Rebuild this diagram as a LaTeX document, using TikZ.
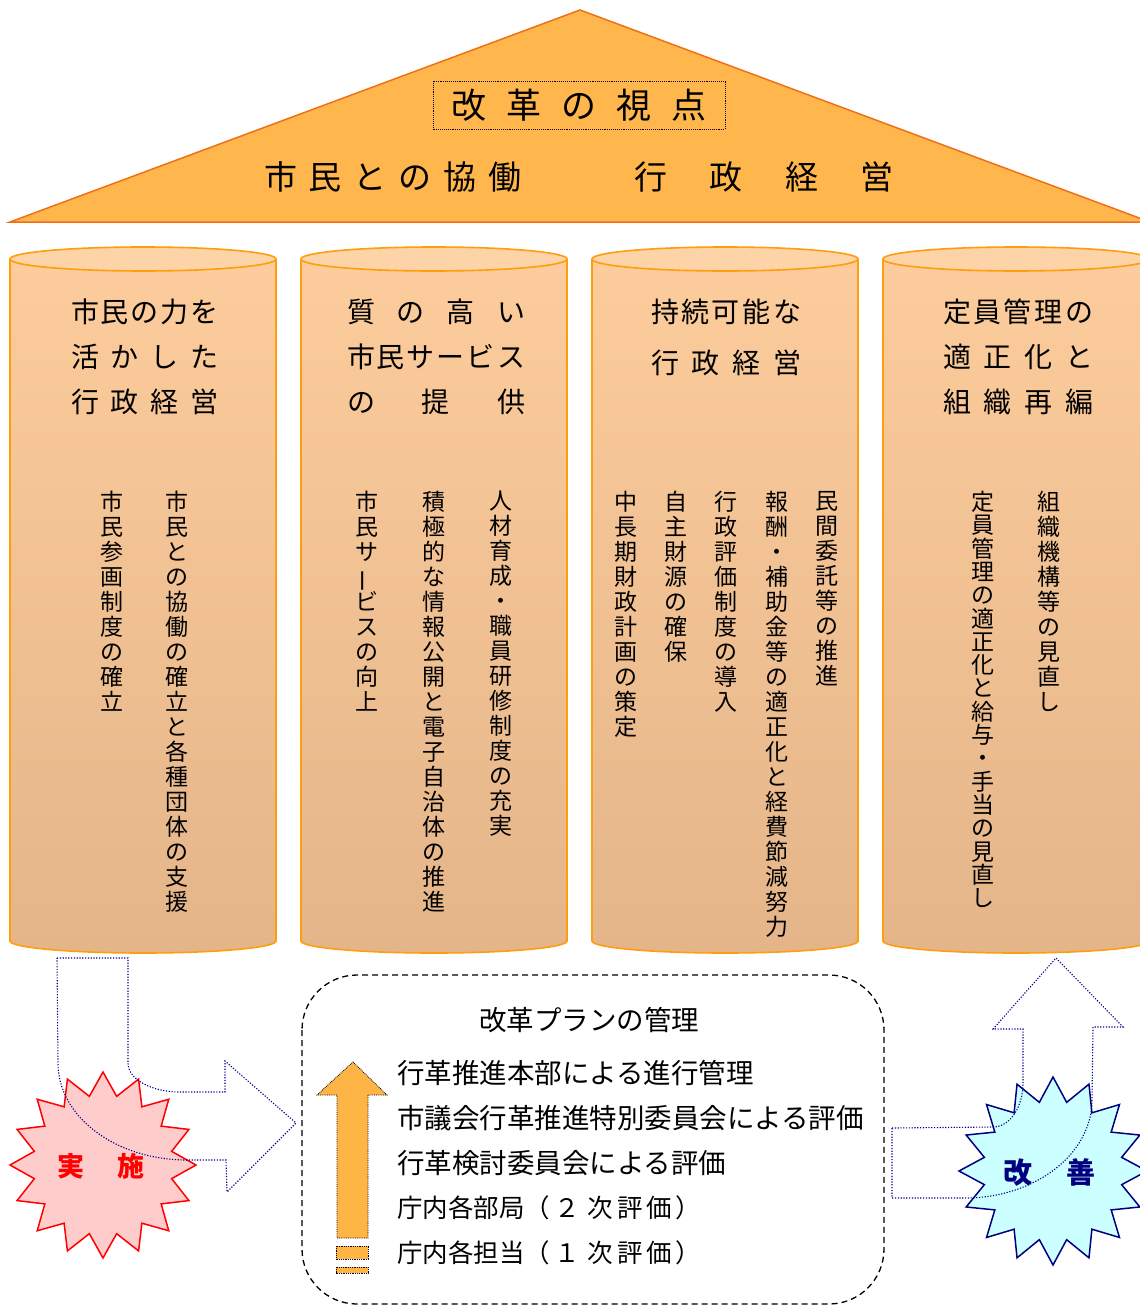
\documentclass[tikz,border=0pt]{standalone}
\usepackage{fontspec}
\setmainfont{Noto Sans CJK JP}
\usepackage{graphicx}
\definecolor{roof}{RGB}{255,182,77}
\definecolor{roofline}{RGB}{240,112,24}
\definecolor{cylline}{RGB}{255,158,12}
\definecolor{cyltop}{RGB}{252,204,156}
\definecolor{cylbot}{RGB}{228,181,137}
\definecolor{cyltopfill}{RGB}{253,211,168}
\definecolor{arroworange}{RGB}{255,180,70}
\definecolor{navyline}{RGB}{0,0,140}
\definecolor{starpink}{RGB}{255,204,204}
\definecolor{starcyan}{RGB}{204,255,255}
\definecolor{navytext}{RGB}{0,0,128}
\newdimen\vpitch \vpitch=25pt
\newcommand\vtxt[1]{\vbox{\baselineskip=\vpitch\lineskiplimit=-30pt\lineskip=0pt\vtxl#1\relax}}
\def\vtxl#1{\ifx\relax#1\else\hbox to 24pt{\hss#1\hss}\expandafter\vtxl\fi}
\newcommand\cylinder[1]{%
  \fill[top color=cyltop, bottom color=cylbot] (#1,259) -- (#1,941) arc[start angle=180,end angle=0,x radius=133,y radius=12] -- ({#1+266},259) -- cycle;
  \draw[cylstroke] (#1,259) -- (#1,941) arc[start angle=180,end angle=0,x radius=133,y radius=12] -- ({#1+266},259);
  \draw[cylstroke, fill=cyltopfill] ({#1+133},259) ellipse[x radius=133,y radius=12];
}
\tikzset{
  cylstroke/.style={draw=cylline, line width=1.6pt},
  vt/.style={anchor=north, inner sep=0pt, font=\fontsize{23}{25}\selectfont},
  head/.style={inner sep=0pt, font=\fontsize{28}{30}\selectfont},
  rooftext/.style={inner sep=0pt, font=\fontsize{33}{36}\selectfont},
  mgmt/.style={inner sep=0pt, anchor=west, font=\fontsize{27.5}{30}\selectfont},
  mgmtsmall/.style={inner sep=0pt, anchor=west, font=\fontsize{25.5}{30}\selectfont},
  flowarrow/.style={draw=navyline, line width=1.1pt, dash pattern=on 1.2pt off 1.6pt},
  orangearrow/.style={fill=arroworange, draw=black, line width=0.8pt, dash pattern=on 0.8pt off 1pt},
}
\begin{document}
\begin{tikzpicture}[x=1pt,y=-1pt]
\useasboundingbox (0,0) rectangle (1140,1306);
\clip (0,0) rectangle (1140,1306);
\fill[white] (0,0) rectangle (1140,1306);
% roof
\draw[fill=roof, draw=roofline, line width=1.5pt] (10,222) -- (580,10) -- (1150,222) -- cycle;
\draw[densely dotted, line width=0.9pt] (433,81) rectangle (725,129);
\node[inner sep=0pt, font=\fontsize{35}{38}\selectfont] (title) at (579,105) {\makebox[256pt]{改\hfill 革\hfill の\hfill 視\hfill 点}};
\node[rooftext] (kyodo) at (393,177) {\makebox[258pt]{市\hfill 民\hfill と\hfill の\hfill 協\hfill 働}};
\node[rooftext] (keiei) at (764,177) {\makebox[259pt]{行\hfill 政\hfill 経\hfill 営}};
% cylinders
\cylinder{10}
\cylinder{301}
\cylinder{592}
\cylinder{883}
% headings
\node[head] (h1a) at (145,312) {\makebox[148pt]{市\hfill 民\hfill の\hfill 力\hfill を}};
\node[head] (h1b) at (145,357) {\makebox[148pt]{活\hfill か\hfill し\hfill た}};
\node[head] (h1c) at (145,402) {\makebox[148pt]{行\hfill 政\hfill 経\hfill 営}};
\node[head] (h2a) at (436,312) {\makebox[178pt]{質\hfill の\hfill 高\hfill い}};
\node[head] (h2b) at (436,357) {\makebox[178pt]{市\hfill 民\hfill サ\hfill ー\hfill ビ\hfill ス}};
\node[head] (h2c) at (436,402) {\makebox[178pt]{の\hfill 提\hfill 供}};
\node[head] (h3a) at (726,312) {\makebox[150pt]{持\hfill 続\hfill 可\hfill 能\hfill な}};
\node[head] (h3b) at (726,363) {\makebox[150pt]{行\hfill 政\hfill 経\hfill 営}};
\node[head] (h4a) at (1018,312) {\makebox[150pt]{定\hfill 員\hfill 管\hfill 理\hfill の}};
\node[head] (h4b) at (1018,357) {\makebox[150pt]{適\hfill 正\hfill 化\hfill と}};
\node[head] (h4c) at (1018,402) {\makebox[150pt]{組\hfill 織\hfill 再\hfill 編}};
% vertical texts
\node[vt] (v11) at (112,491) {\vtxt{市民参画制度の確立}};
\node[vt] (v12) at (177,491) {\vtxt{市民との協働の確立と各種団体の支援}};
\node[vt] (v21) at (367,491) {\vtxt{市民サ{\rotatebox[origin=c]{90}{ー}}ビスの向上}};
\node[vt] (v22) at (434,491) {\vtxt{積極的な情報公開と電子自治体の推進}};
\node[vt] (v23) at (501,491) {\vtxt{人材育成・職員研修制度の充実}};
\node[vt] (v31) at (626,491) {\vtxt{中長期財政計画の策定}};
\node[vt] (v32) at (676,491) {\vtxt{自主財源の確保}};
\node[vt] (v33) at (726,491) {\vtxt{行政評価制度の導入}};
\node[vt] (v34) at (777,491) {\vtxt{報酬・補助金等の適正化と経費節減努力}};
\node[vt] (v35) at (827,491) {\vtxt{民間委託等の推進}};
\node[vt] (v41) at (983,491) {\vpitch=23.3pt\vtxt{定員管理の適正化と給与・手当の見直し}};
\node[vt] (v42) at (1049,491) {\vtxt{組織機構等の見直し}};
% management box
\draw[line width=1.3pt, dash pattern=on 6pt off 4pt, rounded corners=55pt] (302,975) rectangle (884,1304);
\node[inner sep=0pt, font=\fontsize{27.5}{30}\selectfont] (mtitle) at (589,1020) {改革プランの管理};
\node[mgmt] (m1) at (397,1073) {行革推進本部による進行管理};
\node[mgmt] (m2) at (397,1118) {市議会行革推進特別委員会による評価};
\node[mgmt] (m3) at (397,1163) {行革検討委員会による評価};
\node[mgmtsmall] (m4) at (397,1208) {庁内各部局（\hspace{4pt}２\hspace{8pt}次\hspace{4pt}評\hspace{4pt}価\hspace{3pt}）};
\node[mgmtsmall] (m5) at (397,1253) {庁内各担当（\hspace{4pt}１\hspace{8pt}次\hspace{4pt}評\hspace{4pt}価\hspace{3pt}）};
\draw[orangearrow] (353,1062) -- (387,1095) -- (368,1095) -- (368,1238) -- (337,1238) -- (337,1095) -- (317,1095) -- cycle;
\draw[orangearrow] (336,1246) rectangle (368,1259);
\draw[orangearrow] (336,1267) rectangle (368,1273);
% stars
\begin{scope}[shift={(103,1165)}]
\draw[fill=starpink, draw=red, line width=1.5pt] (0:93) \foreach \i in {0,...,15}{ -- ({\i*22.5}:93) -- ({\i*22.5+11.25}:70)} -- cycle;
\end{scope}
\node[inner sep=0pt, text=red, font=\fontsize{27}{30}\selectfont\bfseries] (jisshi) at (101,1166) {実\hspace{34pt}施};
\begin{scope}[shift={(1053,1171)}]
\draw[fill=starcyan, draw=navytext, line width=1.5pt] (0:94) \foreach \i in {0,...,15}{ -- ({\i*22.5}:94) -- ({\i*22.5+11.25}:70)} -- cycle;
\end{scope}
\node[inner sep=0pt, text=navytext, font=\fontsize{29}{32}\selectfont\bfseries] (kaizen) at (1049,1172) {改\hspace{34pt}善};
% flow arrows
\draw[flowarrow] (57,958) -- (128,958) -- (128,1063) .. controls (128,1079) and (151,1092) .. (180,1092) -- (225,1092) -- (225,1061) -- (296,1123) -- (227,1192) -- (226,1160) -- (187,1160) .. controls (116,1160) and (58,1117) .. (58,1063) -- cycle;
\draw[flowarrow] (892,1128) -- (993,1127) .. controls (1010,1127) and (1023,1107) .. (1023,1083) -- (1023,1029) -- (993,1029) -- (1056,958) -- (1123,1027) -- (1093,1027) -- (1092,1100) .. controls (1092,1154) and (1035,1198) .. (965,1198) -- (892,1198) -- cycle;
\end{tikzpicture}
\end{document}
